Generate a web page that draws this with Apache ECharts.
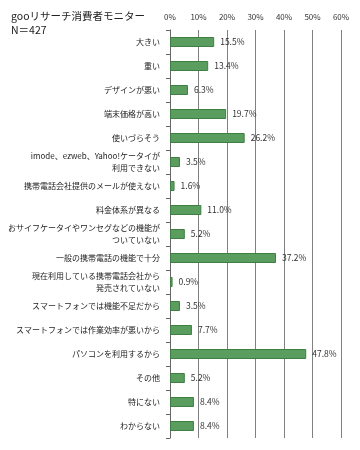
<!DOCTYPE html>
<html><head><meta charset="utf-8">
<script src="https://cdn.jsdelivr.net/npm/echarts@6/dist/echarts.min.js"></script>
<style>html,body{margin:0;padding:0;background:#fff}#c{width:360px;height:450px}</style>
</head><body><div id="c"></div>
<script>
const categories = [
  '大きい','重い','デザインが悪い','端末価格が高い','使いづらそう',
  'imode、ezweb、Yahoo!ケータイが\n利用できない',
  '携帯電話会社提供のメールが使えない',
  '料金体系が異なる',
  'おサイフケータイやワンセグなどの機能が\nついていない',
  '一般の携帯電話の機能で十分',
  '現在利用している携帯電話会社から\n発売されていない',
  'スマートフォンでは機能不足だから',
  'スマートフォンでは作業効率が悪いから',
  'パソコンを利用するから',
  'その他','特にない','わからない'
];
const values = [15.5,13.4,6.3,19.7,26.2,3.5,1.6,11.0,5.2,37.2,0.9,3.5,7.7,47.8,5.2,8.4,8.4];
const xTicks = [0,10,20,30,40,50,60];

const chart = echarts.init(document.getElementById('c'));
const font = '"Noto Sans CJK JP", sans-serif';
chart.setOption({
  backgroundColor:'#fff',
  animation:false,
  title:{text:'gooリサーチ消費者モニター\nN＝427',left:6,top:4,
    textStyle:{fontSize:10.5,fontWeight:'normal',color:'#222',fontFamily:font,lineHeight:14}},
  grid:{left:170,right:19,top:30,bottom:12,outerBoundsMode:'none',containLabel:false},
  xAxis:{type:'value',position:'top',min:0,max:60,interval:10,
    axisLabel:{formatter:v=>xTicks.includes(v)?v+'%':'',fontSize:8,color:'#333',margin:9,fontFamily:font},
    splitLine:{show:true,lineStyle:{color:'#808080',width:1}},
    axisLine:{show:false},axisTick:{show:false}},
  yAxis:{type:'category',inverse:true,data:categories,
    axisLine:{show:true,lineStyle:{color:'#666'}},
    axisTick:{show:true,length:4,lineStyle:{color:'#666'}},
    axisLabel:{fontSize:8,color:'#222',margin:10,lineHeight:12,fontFamily:font,interval:0}},
  series:[{type:'bar',data:values,barWidth:10,
    itemStyle:{color:'#5b9d5f',borderColor:'#3f7f44',borderWidth:1},
    label:{show:true,position:'right',distance:6,formatter:p=>p.value.toFixed(1)+'%',
      fontSize:8.5,color:'#333',fontFamily:font}}]
});
</script></body></html>
